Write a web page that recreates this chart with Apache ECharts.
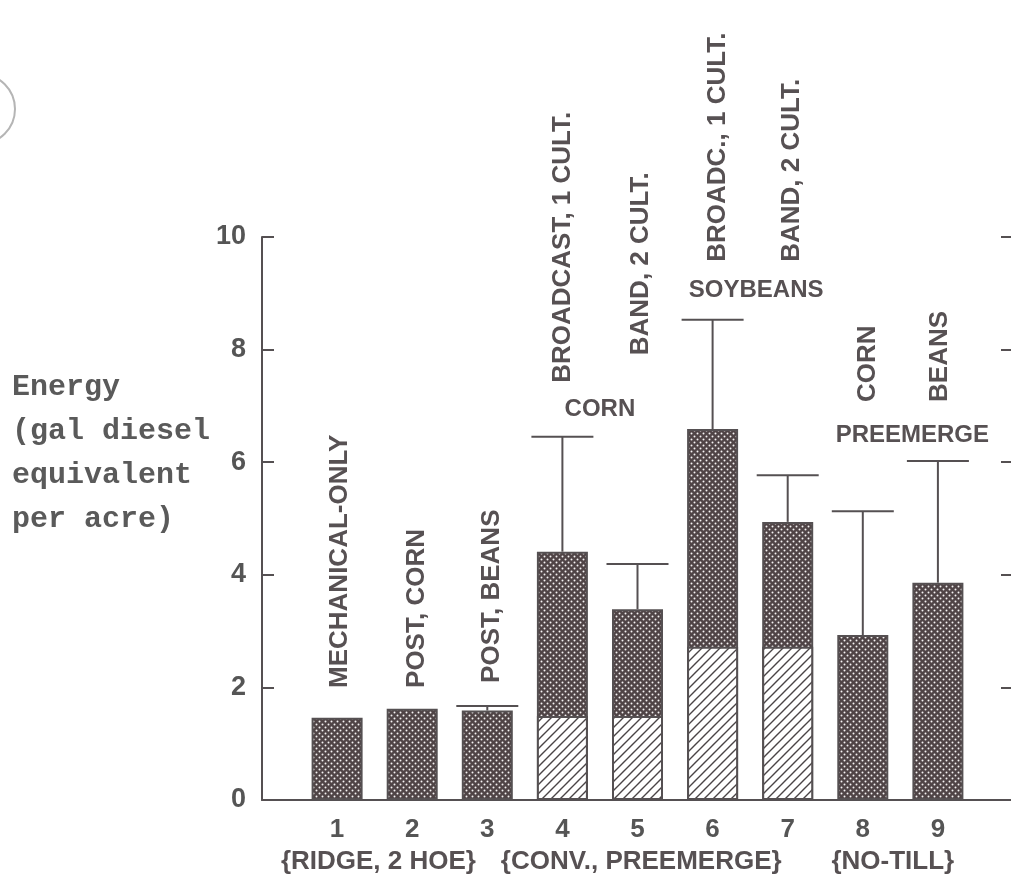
<!DOCTYPE html>
<html>
<head>
<meta charset="utf-8">
<script src="https://cdn.jsdelivr.net/npm/echarts@6/dist/echarts.min.js"></script>
<style>
html,body{margin:0;padding:0;background:#fff;overflow:hidden;}
#chart{width:1011px;height:888px;}
</style>
</head>
<body>
<div id="chart"></div>
<script>
// ---- data ----
var categories = [1, 2, 3, 4, 5, 6, 7, 8, 9];
var xTickLabels = ['1', '2', '3', '4', '5', '6', '7', '8', '9'];
var yTickLabels = ['0', '2', '4', '6', '8', '10'];
var totalEnergy = [1.46, 1.62, 1.59, 4.41, 3.39, 6.59, 4.94, 2.93, 3.86];   // whole bar height
var hatchedPart = [0, 0, 0, 1.49, 1.49, 2.72, 2.72, 0, 0];                  // hatched lower segment
var errorUpper = [null, null, 1.67, 6.45, 4.19, 8.53, 5.77, 5.13, 6.02];    // error bar top
var barNotes = ['MECHANICAL-ONLY', 'POST, CORN', 'POST, BEANS', 'BROADCAST, 1 CULT.', 'BAND, 2 CULT.',
                'BROADC., 1 CULT.', 'BAND, 2 CULT.', 'CORN', 'BEANS'];
var barNoteBase = [1.99, 1.99, 2.08, 7.41, 7.9, 9.56, 9.56, 7.07, 7.07];
var barNoteX = [1.04, 2.06, 3.06, 4.0, 5.04, 6.07, 7.05, 8.07, 9.03];
var groupNotes = ['CORN', 'SOYBEANS', 'PREEMERGE'];
var groupNoteX = [4.5, 6.58, 8.66];
var groupNoteY = [6.93, 9.06, 6.47];
var systemNotes = ['{RIDGE, 2 HOE}', '{CONV., PREEMERGE}', '{NO-TILL}'];
var systemNoteX = [1.55, 5.05, 8.4];
var yAxisTitle = 'Energy\n(gal diesel\nequivalent\nper acre)';

// ---- patterns ----
function dotPattern() {
  var c = document.createElement('canvas');
  c.width = 6; c.height = 6;
  var g = c.getContext('2d');
  g.fillStyle = '#4f4446';
  g.fillRect(0, 0, 6, 6);
  g.fillStyle = '#f6f3f3';
  [[1.5, 1.5], [4.5, 4.5]].forEach(function (p) {
    g.beginPath(); g.arc(p[0], p[1], 1.0, 0, Math.PI * 2); g.fill();
  });
  return c;
}
function hatchPattern() {
  var c = document.createElement('canvas');
  c.width = 9; c.height = 9;
  var g = c.getContext('2d');
  g.fillStyle = '#ffffff';
  g.fillRect(0, 0, 9, 9);
  g.strokeStyle = '#4a4446';
  g.lineWidth = 1.4;
  g.beginPath();
  g.moveTo(-1, 10); g.lineTo(10, -1);
  g.moveTo(-1, 1); g.lineTo(1, -1);
  g.moveTo(8, 10); g.lineTo(10, 8);
  g.stroke();
  return c;
}

var ink = '#555052';
var sansFam = 'Liberation Sans, Arial, sans-serif';
var chart = echarts.init(document.getElementById('chart'));

var option = {
  animation: false,
  backgroundColor: '#ffffff',
  grid: { left: 262, width: 751, top: 237, height: 563, outerBoundsMode: 'none', containLabel: false },
  xAxis: {
    type: 'value', min: 0, max: 10, interval: 1,
    axisLine: { show: true, onZero: false, lineStyle: { color: ink, width: 2 } },
    axisTick: { show: false },
    splitLine: { show: false },
    axisLabel: {
      margin: 17, color: '#555', fontSize: 26, fontWeight: 'bold', fontFamily: sansFam,
      formatter: function (v) { var i = categories.indexOf(v); return i >= 0 ? xTickLabels[i] : ''; }
    }
  },
  yAxis: [{
    type: 'value', min: 0, max: 10, interval: 2, position: 'left',
    axisLine: { show: true, lineStyle: { color: ink, width: 2 } },
    axisTick: { show: true, inside: true, length: 12, lineStyle: { color: ink, width: 2 } },
    splitLine: { show: false },
    axisLabel: {
      margin: 16, color: '#555', fontSize: 27, fontWeight: 'bold', fontFamily: sansFam,
      formatter: function (v) { return yTickLabels[Math.round(v / 2)]; }
    }
  }, {
    type: 'value', min: 0, max: 10, interval: 2, position: 'right',
    axisLine: { show: true, lineStyle: { color: ink, width: 2 } },
    axisTick: { show: true, inside: true, length: 12, lineStyle: { color: ink, width: 2 } },
    splitLine: { show: false },
    axisLabel: { show: false }
  }],
  series: [{
    type: 'bar', name: 'total', barWidth: 51, barGap: '-100%',
    data: categories.map(function (c, i) { return [c, totalEnergy[i]]; }),
    itemStyle: { color: { image: dotPattern(), repeat: 'repeat' }, borderColor: ink, borderWidth: 2 },
    z: 2
  }, {
    type: 'bar', name: 'hatched', barWidth: 51, barGap: '-100%',
    data: categories.map(function (c, i) { return [c, hatchedPart[i] > 0 ? hatchedPart[i] : '-']; }),
    itemStyle: { color: { image: hatchPattern(), repeat: 'repeat' }, borderColor: ink, borderWidth: 2 },
    z: 3
  }, {
    type: 'custom', name: 'error',
    data: categories.map(function (c, i) { return errorUpper[i] == null ? null : [c, totalEnergy[i], errorUpper[i]]; })
      .filter(function (d) { return d; }),
    renderItem: function (params, api) {
      var lo = api.coord([api.value(0), api.value(1)]);
      var hi = api.coord([api.value(0), api.value(2)]);
      var half = 31;
      var st = { stroke: ink, lineWidth: 2, fill: null };
      return {
        type: 'group', children: [
          { type: 'line', shape: { x1: hi[0], y1: lo[1], x2: hi[0], y2: hi[1] }, style: st },
          { type: 'line', shape: { x1: hi[0] - half, y1: hi[1], x2: hi[0] + half, y2: hi[1] }, style: st }
        ]
      };
    },
    z: 4
  }]
};
chart.setOption(option);

// ---- annotations anchored in data coordinates ----
var fontV = 'bold 26px "Liberation Sans", Arial, sans-serif';
var fontH = 'bold 24px "Liberation Sans", Arial, sans-serif';
var fontB = 'bold 26px "Liberation Sans", Arial, sans-serif';
var txtColor = '#575153';
var graphics = [];
barNotes.forEach(function (t, i) {
  var p = chart.convertToPixel({ xAxisIndex: 0, yAxisIndex: 0 }, [barNoteX[i], barNoteBase[i]]);
  graphics.push({
    type: 'text', x: p[0], y: p[1], rotation: Math.PI / 2,
    style: { text: t, font: fontV, fill: txtColor, textAlign: 'left', textVerticalAlign: 'middle' }
  });
});
groupNotes.forEach(function (t, i) {
  var p = chart.convertToPixel({ xAxisIndex: 0, yAxisIndex: 0 }, [groupNoteX[i], groupNoteY[i]]);
  graphics.push({
    type: 'text', x: p[0], y: p[1],
    style: { text: t, font: fontH, fill: txtColor, textAlign: 'center', textVerticalAlign: 'middle' }
  });
});
systemNotes.forEach(function (t, i) {
  var p = chart.convertToPixel({ xAxisIndex: 0, yAxisIndex: 0 }, [systemNoteX[i], 0]);
  graphics.push({
    type: 'text', x: p[0], y: p[1] + 62,
    style: { text: t, font: fontB, fill: txtColor, textAlign: 'center', textVerticalAlign: 'middle' }
  });
});
graphics.push({
  type: 'text', left: 12, top: 365,
  style: { text: yAxisTitle, font: 'bold 30px "Liberation Mono", "DejaVu Sans Mono", monospace', fill: '#5a5a5a', lineHeight: 44 }
});
graphics.push({
  type: 'circle', shape: { cx: -20, cy: 109, r: 35 },
  style: { fill: null, stroke: '#b5b5b5', lineWidth: 2 }
});
chart.setOption({ graphic: graphics });
</script>
</body>
</html>
